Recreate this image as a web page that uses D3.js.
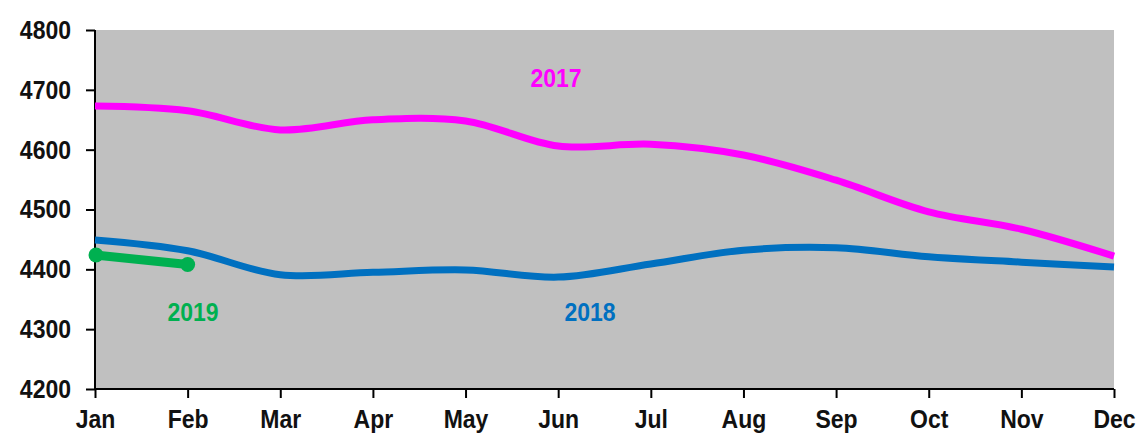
<!DOCTYPE html>
<html><head><meta charset="utf-8">
<script src="https://cdn.jsdelivr.net/npm/d3@7/dist/d3.min.js"></script>
<style>body{margin:0;background:#fff}
svg text{transform-box:fill-box;transform-origin:center;transform:scaleY(1.13)}</style>
</head><body>
<svg id="c" width="1137" height="435"></svg>
<script>
const months = ["Jan","Feb","Mar","Apr","May","Jun","Jul","Aug","Sep","Oct","Nov","Dec"];
const yTicks = [4200,4300,4400,4500,4600,4700,4800];
const s2017 = [4673,4665,4633,4650,4648,4606,4609,4591,4549,4496,4467,4422];
const s2018 = [4449,4431,4391,4395,4399,4387,4409,4432,4436,4421,4412,4404];
const s2019 = [4424,4408];
const seriesNames = ["2017","2018","2019"];

const svg = d3.select("#c");
const L=95, R=1114, T=30, B=389;
const x = d3.scalePoint().domain(months).range([L,R]);
const y = d3.scaleLinear().domain([4200,4800]).range([B,T]);

svg.append("rect").attr("x",L).attr("y",T).attr("width",R-L).attr("height",B-T).attr("fill","#c0c0c0");

const font = "'Liberation Sans', Arial, sans-serif";
const ya = svg.append("g").attr("transform",`translate(${L},0)`)
  .call(d3.axisLeft(y).tickValues(yTicks).tickSize(9).tickPadding(15).tickFormat(d3.format("d")));
const xa = svg.append("g").attr("transform",`translate(0,${B})`)
  .call(d3.axisBottom(x).tickSize(9).tickPadding(13));
[ya,xa].forEach(a=>{
  a.selectAll("path,line").attr("stroke","#000").attr("stroke-width",2);
  a.selectAll("text").attr("fill","#111").style("font-family",font).style("font-weight","bold").style("font-size","23px");
});
ya.select("path").attr("d",`M0,${T}V${B}`).attr("stroke-width",2).attr("fill","none");
xa.select("path").attr("d",`M${L},0H${R}`).attr("fill","none");

const line = d3.line().x((d,i)=>x(months[i])).y(d=>y(d)).curve(d3.curveCatmullRom.alpha(0.5));
const colors = {"2017":"#ff00ff","2018":"#0070c0","2019":"#00b050"};
const data = {"2017":s2017,"2018":s2018,"2019":s2019};
const widths = {"2017":7,"2018":7,"2019":9};
seriesNames.forEach(n=>{
  svg.append("path").attr("d",line(data[n])).attr("fill","none")
    .attr("stroke",colors[n]).attr("stroke-width",widths[n]).attr("stroke-linecap","butt");
});
s2019.forEach((v,i)=>{
  svg.append("circle").attr("cx",x(months[i])+(i===0?1:0)).attr("cy",y(v)).attr("r",7.5).attr("fill",colors["2019"]);
});
const labels = [["2017",556,86],["2018",590,320],["2019",193,320]];
labels.forEach(([n,lx,ly])=>{
  svg.append("text").attr("x",lx).attr("y",ly).attr("text-anchor","middle")
    .attr("fill",colors[n]).style("font-family",font).style("font-weight","bold").style("font-size","23px").text(n);
});
</script>
</body></html>
